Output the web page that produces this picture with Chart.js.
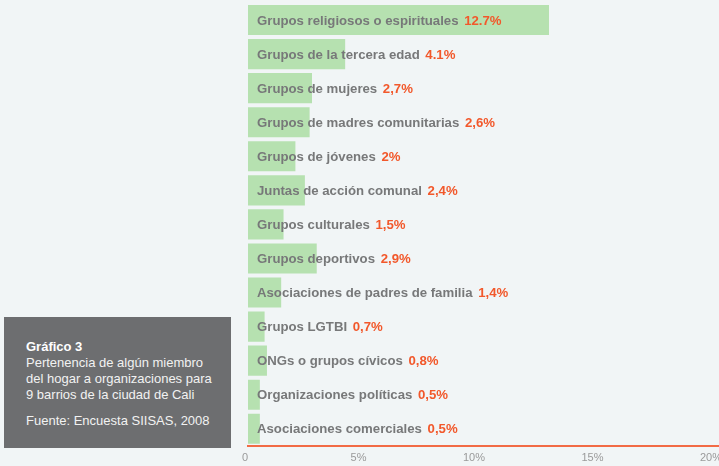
<!DOCTYPE html>
<html>
<head>
<meta charset="utf-8">
<script src="https://cdn.jsdelivr.net/npm/chart.js@4"></script>
<style>
  html, body { margin: 0; padding: 0; background: #f1f5f6; overflow: hidden; }
  #wrap { position: relative; width: 719px; height: 466px; overflow: hidden; }
  #box {
    position: absolute; left: 4px; top: 317px; width: 227px; height: 131px;
    background: #6d6e70; color: #f2f2f2; box-sizing: border-box;
    padding: 22px 0 0 22px; font-family: "Liberation Sans", Arial, sans-serif;
    font-size: 13px; line-height: 16px;
  }
  #box b { color: #fff; }
</style>
</head>
<body>
<div id="wrap">
  <canvas id="chart" width="728" height="466"></canvas>
  <div id="box">
    <b>Gráfico 3</b><br>
    Pertenencia de algún miembro<br>
    del hogar a organizaciones para<br>
    9 barrios de la ciudad de Cali<br>
    <div style="margin-top:10px">Fuente: Encuesta SIISAS, 2008</div>
  </div>
</div>
<script>
// datos
const categorias = [
    'Grupos religiosos o espirituales',
    'Grupos de la tercera edad',
    'Grupos de mujeres',
    'Grupos de madres comunitarias',
    'Grupos de jóvenes',
    'Juntas de acción comunal',
    'Grupos culturales',
    'Grupos deportivos',
    'Asociaciones de padres de familia',
    'Grupos LGTBI',
    'ONGs o grupos cívicos',
    'Organizaciones políticas',
    'Asociaciones comerciales'
];
const valores = [12.7, 4.1, 2.7, 2.6, 2, 2.4, 1.5, 2.9, 1.4, 0.7, 0.8, 0.5, 0.5];
const etiquetasValor = ['12.7%', '4.1%', '2,7%', '2,6%', '2%', '2,4%', '1,5%', '2,9%', '1,4%', '0,7%', '0,8%', '0,5%', '0,5%'];
const ticksX = ['0', '5%', '10%', '15%', '20%'];

const FONT = '"Liberation Sans", Arial, sans-serif';

// texto dentro de las barras
const barLabels = {
    id: 'barLabels',
    afterDatasetsDraw(chart) {
        const { ctx } = chart;
        const meta = chart.getDatasetMeta(0);
        const x0 = chart.scales.x.getPixelForValue(0);
        ctx.save();
        ctx.font = 'bold 13.2px ' + FONT;
        ctx.textBaseline = 'middle';
        meta.data.forEach((bar, i) => {
            const x = x0 + 9;
            ctx.fillStyle = '#777879';
            ctx.fillText(categorias[i], x, bar.y + 1);
            const w = ctx.measureText(categorias[i] + ' ').width;
            ctx.fillStyle = '#f2582b';
            ctx.fillText(etiquetasValor[i], x + w + 2, bar.y + 1);
        });
        ctx.restore();
    }
};

new Chart(document.getElementById('chart'), {
    type: 'bar',
    data: {
        labels: categorias,
        datasets: [{
            data: valores,
            backgroundColor: '#b6e1b0',
            borderWidth: 0,
            barPercentage: 0.94,
            categoryPercentage: 0.94
        }]
    },
    options: {
        indexAxis: 'y',
        responsive: false,
        animation: false,
        layout: { padding: { left: 248, top: 3, right: 0, bottom: -5 } },
        plugins: { legend: { display: false }, tooltip: { enabled: false } },
        scales: {
            y: { display: false },
            x: {
                min: 0, max: 20,
                grid: { display: false, drawTicks: false },
                border: { color: '#f26b45', width: 2 },
                ticks: {
                    stepSize: 5,
                    align: 'end',
                    padding: 6,
                    color: '#9a9a9a',
                    font: { family: FONT, size: 11 },
                    callback: (v, i) => ticksX[i]
                }
            }
        }
    },
    plugins: [barLabels]
});
</script>
</body>
</html>
